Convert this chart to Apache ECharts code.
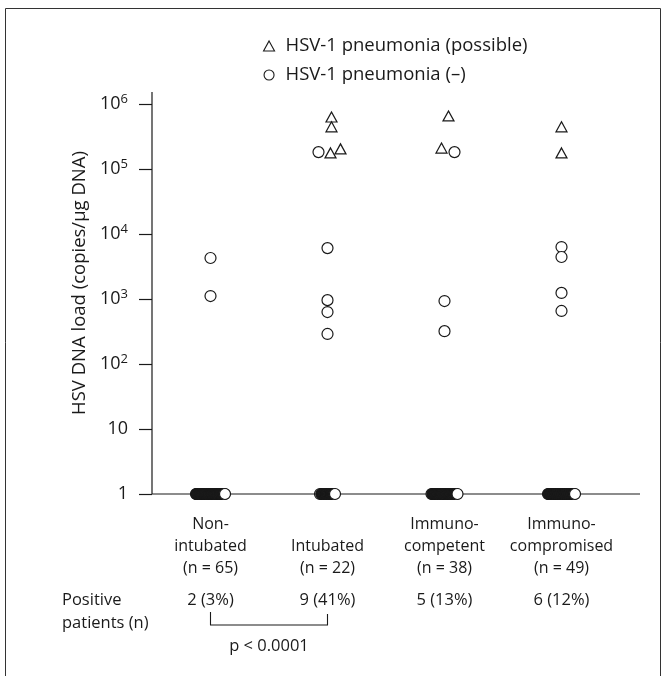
<!DOCTYPE html>
<html>
<head>
<meta charset="utf-8">
<script src="https://cdn.jsdelivr.net/npm/echarts@6/dist/echarts.min.js"></script>
<style>html,body{margin:0;padding:0;background:#fff}#c{width:665px;height:676px}</style>
</head>
<body>
<div id="c"></div>
<script>
// ---- data ----
const categories = ['Non-\nintubated', '\nIntubated', 'Immuno-\ncompetent', 'Immuno-\ncompromised'];
const totalN = [65, 22, 38, 49];
const possibleValues = [[], [631000, 445000, 177000, 204000], [655000, 210000], [445000, 177000]];
const negativeValues = [[4270, 1110], [182000, 6070, 960, 630, 290], [182000, 930, 320], [6300, 4430, 1240, 655]];
const yTickValues = [1, 10, 100, 1000, 10000, 100000, 1000000];
const pText = 'p < 0.0001';
const seriesNames = ['HSV-1 pneumonia (possible)', 'HSV-1 pneumonia (\u2013)'];

// ---- layout (pixel offsets of overlapping marks, not data) ----
const possibleJitter = [[], [4, 4, 3, 13], [4, -3], [0, 0]];
const negativeJitter = [[0, 0], [-9, 0, 0, 0, 0], [10, 0, 0], [0, 0, 0, 0]];
const clusterSpread = [29, 15, 26, 27];

const FONT = 'Open Sans';
const INK = '#1a1a1a';

const positiveN = possibleValues.map((a, i) => a.length + negativeValues[i].length);

const triData = [];
possibleValues.forEach((arr, c) => arr.forEach((v, k) => {
  triData.push({ value: [c, v], symbolOffset: [possibleJitter[c][k], 0] });
}));
const circData = [];
negativeValues.forEach((arr, c) => arr.forEach((v, k) => {
  circData.push({ value: [c, v], symbolOffset: [negativeJitter[c][k], 0] });
}));
// undetectable patients plotted at 1 (dense overlapping circles)
totalN.forEach((n, c) => {
  const cnt = n - positiveN[c];
  const s = clusterSpread[c];
  for (let i = 0; i < cnt; i++) {
    const dx = cnt > 1 ? -s / 2 + i * s / (cnt - 1) : 0;
    const last = i === cnt - 1, first = i === 0;
    circData.push({
      value: [c, 1], symbolOffset: [dx, 0],
      itemStyle: { color: (last || first) ? '#fff' : '#111', opacity: 1 }
    });
  }
});

const chart = echarts.init(document.getElementById('c'), null, { renderer: 'canvas' });

const option = {
  animation: false,
  backgroundColor: '#fff',
  textStyle: { fontFamily: FONT, color: INK },
  grid: { left: 152, top: 104, width: 468, height: 390 },
  legend: {
    orient: 'vertical',
    left: 258, top: 30,
    itemWidth: 11, itemHeight: 10, itemGap: 7,
    textStyle: { fontFamily: FONT, fontSize: 18.5, color: INK, lineHeight: 22, padding: [0, 0, 0, 6] },
    itemStyle: { color: '#fff', borderColor: INK, borderWidth: 1.1, opacity: 1 },
    data: [
      { name: seriesNames[0], icon: 'triangle' },
      { name: seriesNames[1], icon: 'circle' }
    ]
  },
  xAxis: {
    type: 'category',
    data: categories.map((c, i) => c + '\n(n = ' + totalN[i] + ')'),
    boundaryGap: true,
    axisLine: { show: false },
    axisTick: { alignWithLabel: true, length: 12, lineStyle: { color: INK, width: 1.2 } },
    axisLabel: { fontFamily: FONT, fontSize: 16, color: INK, lineHeight: 22, margin: 19, interval: 0 },
    splitLine: { show: false }
  },
  yAxis: {
    type: 'log',
    min: 1, max: 1000000,
    logBase: 10,
    name: 'HSV DNA load (copies/\u00b5g DNA)',
    nameLocation: 'middle',
    nameGap: 56,
    nameTextStyle: { fontFamily: FONT, fontSize: 18.5, color: INK, padding: [0, 0, 0, 32] },
    axisLine: { show: false },
    axisTick: { show: true, length: 13, lineStyle: { color: INK, width: 1.2 } },
    splitLine: { show: false },
    axisLabel: {
      margin: 24,
      formatter: function (v) {
        const e = Math.round(Math.log10(v));
        if (yTickValues.indexOf(Math.pow(10, e)) < 0) return '';
        if (e === 0) return '{b|1}';
        if (e === 1) return '{b|10}';
        return '{b|10}{s|' + e + '}';
      },
      rich: {
        b: { fontFamily: FONT, fontSize: 18, color: INK, lineHeight: 22 },
        s: { fontFamily: FONT, fontSize: 13, color: INK, lineHeight: 12, verticalAlign: 'top' }
      }
    }
  },
  series: [
    {
      name: seriesNames[0], type: 'scatter', clip: false,
      symbol: 'triangle', symbolSize: [11, 10],
      itemStyle: { color: '#fff', borderColor: INK, borderWidth: 1.2, opacity: 1 },
      data: triData, z: 3
    },
    {
      name: seriesNames[1], type: 'scatter', clip: false,
      symbol: 'circle', symbolSize: 11,
      itemStyle: { color: '#fff', borderColor: INK, borderWidth: 1.2, opacity: 1 },
      data: circData, z: 2
    }
  ]
};
chart.setOption(option);

// axis lines and bottom annotation row, positioned through the axes
const cx = categories.map((c, i) => chart.convertToPixel({ xAxisIndex: 0 }, i));
const y0 = chart.convertToPixel({ yAxisIndex: 0 }, 1);
const yTop = chart.convertToPixel({ yAxisIndex: 0 }, 1000000);
const xAx = 152, xEnd = 640;
const graphics = [
  { type: 'rect', shape: { x: 5.5, y: 8.5, width: 655, height: 720 }, style: { fill: 'none', stroke: '#333', lineWidth: 1 }, silent: true },
  { type: 'line', z: 1, shape: { x1: xAx, y1: y0, x2: xEnd, y2: y0 }, style: { stroke: INK, lineWidth: 1.2 } },
  { type: 'line', z: 1, shape: { x1: xAx, y1: y0, x2: xAx, y2: yTop - 12 }, style: { stroke: INK, lineWidth: 1.2 } },
  { type: 'text', left: 62, top: 589, style: { text: 'Positive\npatients (n)', font: '16.5px "Open Sans"', fill: INK, lineHeight: 23 } }
];
positiveN.forEach((p, i) => {
  graphics.push({ type: 'text', x: cx[i], y: 600, style: { text: p + ' (' + Math.round(100 * p / totalN[i]) + '%)', font: '16.5px "Open Sans"', fill: INK, align: 'center', verticalAlign: 'middle' } });
});
graphics.push({ type: 'polyline', shape: { points: [[cx[0], 612], [cx[0], 625], [cx[1], 625], [cx[1], 614]] }, style: { stroke: INK, lineWidth: 1.1, fill: 'none' } });
graphics.push({ type: 'text', x: (cx[0] + cx[1]) / 2, y: 646, style: { text: pText, font: '16.5px "Open Sans"', fill: INK, align: 'center', verticalAlign: 'middle' } });
chart.setOption({ graphic: graphics });
</script>
</body>
</html>
